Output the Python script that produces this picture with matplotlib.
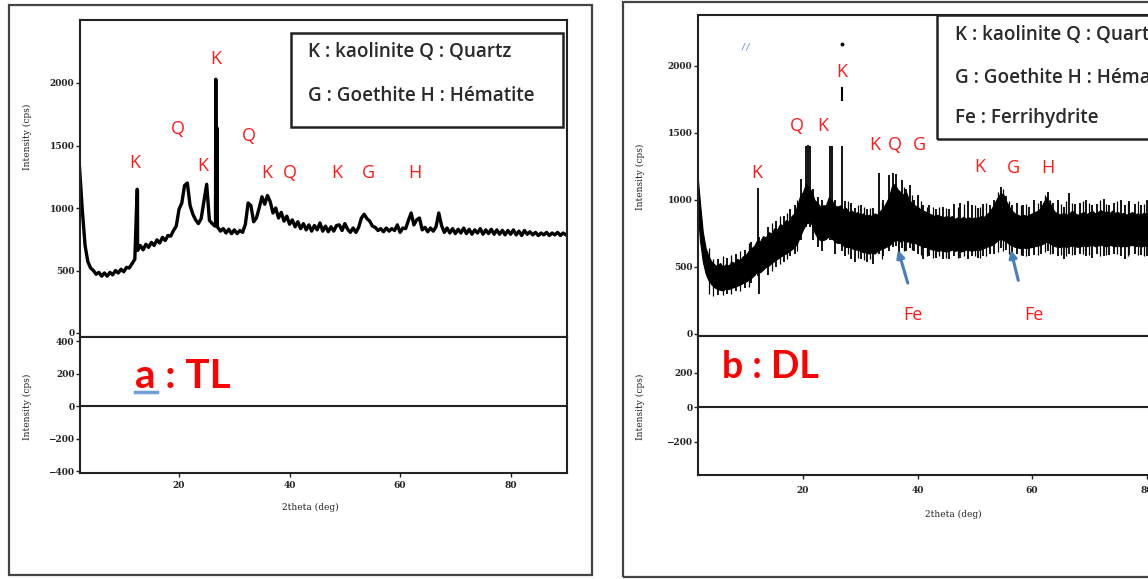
import numpy as np
import matplotlib
matplotlib.use("Agg")
import matplotlib.pyplot as plt
from matplotlib.patches import Rectangle
from matplotlib.lines import Line2D

W, H = 1148, 579

# ---- panel a (TL): intensity, 0.5 deg steps from 2 to 90
tl_x = np.arange(2.0, 90.01, 0.5)
tl_y = [
    1320, 980, 700, 570, 520, 500, 470, 485, 455, 480,
    455, 485, 465, 500, 480, 510, 490, 525, 520, 555,
    590, 660, 700, 665, 710, 685, 725, 700, 745, 720,
    765, 740, 780, 775, 820, 855, 990, 1040, 1180, 1200,
    1020, 950, 905, 875, 915, 1050, 1190, 900, 875, 855,
    845, 815, 835, 800, 830, 795, 825, 795, 820, 805,
    870, 1040, 1020, 890, 920, 1000, 1090, 1030, 1100, 1050,
    960, 1000, 920, 965, 895, 935, 870, 905, 850, 890,
    835, 875, 825, 865, 815, 860, 825, 880, 815, 855,
    810, 850, 815, 860, 865, 820, 875, 830, 805, 840,
    805, 845, 920, 950, 915, 895, 855, 845, 820, 835,
    810, 840, 815, 835, 820, 865, 805, 840, 835, 900,
    960, 865, 905, 920, 825, 845, 810, 840, 815, 850,
    960, 860, 805, 840, 800, 835, 795, 830, 800, 840,
    795, 830, 790, 825, 800, 835, 790, 825, 795, 830,
    790, 825, 790, 822, 785, 820, 790, 825, 785, 815,
    780, 820, 790, 810, 785, 805, 780, 800, 785, 805,
    780, 800, 785, 805, 780, 800, 785,
]
# sharp kaolinite reflections
tl_peak_x = [12.42, 12.48, 26.6, 26.65, 26.72, 26.88, 26.93]
tl_peak_y = [1150, 1140, 870, 2030, 880, 1640, 850]

tl_labels = ["K", "Q", "K", "K", "Q", "K", "Q", "K", "G", "H"]
tl_label_x = [12.0, 19.8, 24.3, 26.7, 32.7, 35.9, 40.1, 48.6, 54.2, 62.7]
tl_label_y = [1360, 1632, 1336, 2192, 1576, 1280, 1280, 1280, 1280, 1280]

# ---- panel b (DL): noisy band, upper / lower edges, 0.5 deg steps from 1.5 to 90
dl_x = np.arange(1.5, 90.01, 0.5)
dl_hi = [
    1220, 980, 760, 640, 580, 540, 520, 505, 530, 500,
    520, 510, 540, 530, 560, 550, 580, 590, 620, 640,
    660, 700, 690, 730, 720, 760, 750, 790, 780, 820,
    810, 850, 840, 880, 900, 960, 1030, 1060, 1120, 1100,
    1060, 1000, 980, 950, 960, 960, 1020, 1000, 960, 950,
    960, 930, 940, 910, 920, 900, 910, 890, 900, 880,
    890, 880, 900, 890, 920, 940, 980, 1020, 1100, 1120,
    1080, 1060, 1040, 1060, 1000, 980, 960, 950, 930, 920,
    910, 900, 890, 880, 890, 880, 870, 880, 870, 880,
    860, 870, 860, 875, 860, 870, 860, 870, 865, 880,
    870, 890, 910, 940, 980, 1020, 1050, 1040, 990, 950,
    920, 900, 890, 880, 890, 880, 890, 900, 910, 920,
    940, 980, 1020, 990, 940, 910, 900, 890, 905, 890,
    900, 920, 900, 890, 900, 910, 895, 905, 920, 900,
    910, 925, 905, 915, 900, 920, 905, 910, 895, 905,
    890, 900, 910, 895, 900, 890, 905, 895, 900, 890,
    900, 890, 905, 895, 900, 890, 900, 895, 900, 890,
    900, 890, 900, 895, 900, 890, 895, 890,
]
dl_lo = [
    1000, 700, 540, 450, 400, 370, 350, 335, 330, 325,
    340, 335, 345, 350, 360, 370, 380, 390, 405, 420,
    440, 470, 460, 480, 500, 510, 530, 545, 560, 575,
    590, 600, 615, 630, 650, 680, 730, 780, 820, 840,
    820, 760, 720, 700, 700, 710, 730, 720, 690, 680,
    680, 660, 650, 650, 640, 630, 630, 620, 610, 610,
    600, 610, 600, 620, 630, 640, 650, 660, 680, 700,
    700, 690, 700, 690, 690, 680, 680, 670, 660, 650,
    650, 640, 630, 630, 620, 625, 620, 615, 620, 630,
    620, 625, 615, 620, 630, 625, 620, 630, 625, 630,
    640, 650, 655, 665, 680, 700, 710, 700, 690, 670,
    660, 650, 645, 640, 645, 640, 645, 650, 655, 660,
    665, 675, 690, 680, 665, 655, 650, 650, 655, 650,
    655, 660, 655, 650, 655, 660, 655, 660, 665, 655,
    660, 665, 660, 655, 665, 660, 655, 660, 650, 660,
    655, 660, 665, 655, 660, 650, 660, 655, 660, 650,
    655, 650, 660, 655, 650, 655, 660, 650, 655, 650,
    655, 650, 655, 660, 650, 655, 650, 655,
]
# single-channel spikes sticking out of the band
dl_spike_x = [5.2, 6.8, 8.3, 9.8, 11.0, 12.1, 12.3, 13.8, 15.3, 16.6, 17.8, 18.6,
              19.65, 20.6, 20.85, 21.15, 21.8, 22.6, 23.3, 24.8, 25.05, 25.6, 26.8,
              27.4, 28.4, 29.1, 30.2, 31.2, 32.3, 33.3, 34.0, 35.0, 35.7, 36.2, 36.7,
              37.3, 38.0, 38.7, 39.4, 40.1, 41.0, 42.0, 43.3, 44.5, 45.5, 46.3, 47.5,
              48.8, 49.5, 50.5, 51.5, 52.6, 53.3, 54.6, 55.5, 56.5, 57.4, 58.5, 59.5,
              60.3, 61.5, 62.8, 63.6, 64.5, 65.5, 66.5, 67.5, 68.4, 69.5, 70.5, 71.3,
              72.5, 73.5, 74.3, 75.5, 76.2, 77.0, 78.0, 79.0, 80.0, 81.2, 82.4, 83.5,
              84.6, 86.0, 87.4, 88.6, 89.6]
dl_spike_lo = [290, 300, 320, 340, 380, 430, 300, 440, 500, 540, 580, 600,
               700, 800, 820, 800, 700, 650, 620, 700, 700, 600, 620,
               580, 560, 540, 560, 540, 520, 600, 580, 620, 650, 660, 600,
               640, 620, 640, 620, 600, 560, 580, 570, 560, 560, 580, 570,
               560, 580, 570, 580, 600, 600, 640, 630, 590, 600, 580, 580,
               590, 600, 620, 600, 580, 560, 600, 590, 600, 580, 570, 600,
               585, 590, 600, 580, 560, 590, 600, 590, 580, 590, 600, 585,
               590, 600, 580, 600, 590]
dl_spike_hi = [560, 570, 600, 630, 690, 1090, 720, 800, 840, 880, 930, 960,
               1160, 1400, 1410, 1400, 1080, 1020, 1000, 1400, 1400, 1000, 1400,
               990, 980, 940, 960, 930, 940, 1200, 1000, 1185, 1200, 1195, 1050,
               1150, 1080, 1110, 1000, 1040, 960, 960, 930, 950, 930, 970, 980,
               990, 960, 940, 970, 960, 1000, 1100, 1030, 960, 980, 960, 950,
               1000, 990, 1060, 980, 1000, 950, 1050, 970, 980, 1000, 960, 970,
               1010, 960, 980, 1000, 960, 990, 970, 960, 1000, 970, 990, 960,
               1000, 970, 990, 960, 980]
# finer, shorter noise spikes
dl_fine_x = [3.5, 4.3, 6.0, 7.5, 9.0, 10.5, 14.5, 16.0, 17.2, 19.0,
             27.9, 29.6, 30.7, 31.7, 33.8, 37.7, 39.0, 40.6, 41.6, 42.7,
             43.8, 45.0, 47.0, 48.2, 50.0, 51.0, 52.0, 54.0, 55.0, 56.0,
             58.0, 59.0, 61.0, 62.2, 63.2, 65.0, 66.0, 67.0, 68.9, 70.0,
             71.9, 73.0, 74.8, 76.8, 78.5, 79.5, 80.6, 81.8, 83.0, 84.0,
             85.3, 86.7, 88.0, 89.2]
dl_fine_lo = [300, 280, 290, 300, 320, 350, 470, 520, 560, 620,
              600, 570, 550, 560, 560, 620, 630, 590, 580, 570,
              580, 570, 570, 580, 580, 570, 580, 610, 620, 600,
              590, 580, 590, 610, 600, 590, 580, 590, 600, 590,
              580, 590, 600, 580, 590, 580, 590, 580, 600, 590,
              580, 590, 600, 580]
dl_fine_hi = [640, 560, 580, 590, 620, 680, 830, 880, 900, 1000,
              990, 960, 950, 940, 980, 1100, 1040, 990, 950, 950,
              950, 940, 950, 970, 960, 950, 980, 1060, 1080, 990,
              960, 970, 980, 1040, 1000, 970, 990, 980, 990, 980,
              1000, 970, 990, 980, 990, 970, 980, 990, 970, 980,
              990, 970, 990, 970]
dl_k_seg = [1740, 1840]
dl_k_dot = 2163

dl_labels = ["K", "Q", "K", "K", "K", "Q", "G", "K", "G", "H"]
dl_label_x = [11.96, 18.95, 23.5, 26.8, 32.6, 36.1, 40.4, 50.9, 56.7, 62.8]
dl_label_y = [1201, 1552, 1552, 1955, 1410, 1410, 1410, 1246, 1238, 1238]
fe_label_x = [39.2, 60.3]
fe_arrow_tail = [(38.3, 380), (57.6, 400)]
fe_arrow_head = [(36.6, 627), (56.3, 627)]

legend_a = ["K : kaolinite Q : Quartz", "G : Goethite H : Hématite"]
legend_b = ["K : kaolinite Q : Quartz", "G : Goethite H : Hématite", "Fe : Ferrihydrite"]

RED = "#ff1a1a"
BLUE = "#4a7ebb"
DARK = "#222222"
LBL_FONT = ["Open Sans", "DejaVu Sans"]
TICK_FONT = ["DejaVu Serif"]


def px_box(l, t, r, b):
    return [l / W, 1 - b / H, (r - l) / W, (b - t) / H]


def style(ax, xlim, ylim, yticks, xticks=None):
    ax.set_xlim(*xlim)
    ax.set_ylim(*ylim)
    ax.set_yticks(yticks)
    if xticks is None:
        ax.set_xticks([])
    else:
        ax.set_xticks(xticks)
    for s in ax.spines.values():
        s.set_linewidth(1.5)
        s.set_color(DARK)
    ax.tick_params(direction="out", length=3, width=1, labelsize=6.5, pad=1,
                   colors=DARK)
    for lab in ax.get_yticklabels() + ax.get_xticklabels():
        lab.set_family(TICK_FONT)
        lab.set_weight("bold")


fig = plt.figure(figsize=(W / 100, H / 100), dpi=100)
fig.patch.set_facecolor("white")

# outer frames
fig.add_artist(Rectangle((9 / W, 1 - 575 / H), 583 / W, 570 / H, transform=fig.transFigure,
                         fill=False, lw=1.6, ec="#444444"))
fig.add_artist(Rectangle((623 / W, 1 - 577 / H), 1.0, 575 / H, transform=fig.transFigure,
                         fill=False, lw=1.6, ec="#444444"))

# ================= panel a =================
ax1 = fig.add_axes(px_box(80, 20, 567, 337))
ax2 = fig.add_axes(px_box(80, 337, 567, 473))

x_all = np.concatenate([tl_x, tl_peak_x])
y_all = np.concatenate([tl_y, tl_peak_y])
order = np.argsort(x_all, kind="stable")
ax1.plot(x_all[order], y_all[order], color="black", lw=2.4)

style(ax1, (2.08, 90.2), (-32, 2504), [0, 500, 1000, 1500, 2000])
style(ax2, (2.08, 90.2), (-412, 425), [-400, -200, 0, 200, 400], [20, 40, 60, 80])
ax2.axhline(0, color=DARK, lw=1.5)
ax2.tick_params(axis="x", pad=3)

for s, x, y in zip(tl_labels, tl_label_x, tl_label_y):
    ax1.text(x, y, s, color=RED, fontsize=13, ha="center", va="center", family=LBL_FONT)

ax1.add_patch(Rectangle((0.433, 0.6625), 0.5585, 0.2965, transform=ax1.transAxes,
                        fill=False, lw=1.8, ec=DARK))
for txt, yy in zip(legend_a, [0.899, 0.760]):
    ax1.text(0.468, yy, txt, transform=ax1.transAxes, va="center", ha="left",
             fontsize=13.6, fontweight="semibold", color="#2a2a2a", family=LBL_FONT)

for ax, yc in [(ax1, 0.63), (ax2, 0.485)]:
    ax.set_ylabel("Intensity (cps)", fontsize=6.5, family=TICK_FONT, color=DARK)
    ax.yaxis.set_label_coords(-0.099, yc)
ax2.set_xlabel("2theta (deg)", fontsize=6.5, family=TICK_FONT, color=DARK)
ax2.xaxis.set_label_coords(0.472, -0.22)

fig.text(135 / W, 1 - 388 / H, "a : TL", color="#ff0000", fontsize=29, fontweight="bold",
         family=["Lato", "DejaVu Sans"], ha="left", va="baseline")
fig.add_artist(Line2D([135 / W, 157 / W], [1 - 392 / H, 1 - 392 / H], transform=fig.transFigure,
                      color="#6fa0dc", lw=2.5))

# ================= panel b =================
bx1 = fig.add_axes(px_box(698, 15, 1204, 336))
bx2 = fig.add_axes(px_box(698, 336, 1204, 475))

bx1.fill_between(dl_x, dl_lo, dl_hi, color="black", lw=0.8)
bx1.vlines(dl_spike_x, dl_spike_lo, dl_spike_hi, color="black", lw=1.3)
bx1.vlines(dl_fine_x, dl_fine_lo, dl_fine_hi, color="black", lw=0.9)
bx1.vlines([26.8], dl_k_seg[0], dl_k_seg[1], color="black", lw=1.5)
bx1.plot([26.8], [dl_k_dot], "o", color="black", ms=1.8)

style(bx1, (1.66, 90.04), (-15, 2380), [0, 500, 1000, 1500, 2000])
style(bx2, (1.66, 90.04), (-394, 412), [-200, 0, 200], [20, 40, 60, 80])
bx2.axhline(0, color=DARK, lw=1.5)
bx2.tick_params(axis="x", pad=5)

for s, x, y in zip(dl_labels, dl_label_x, dl_label_y):
    bx1.text(x, y, s, color=RED, fontsize=13, ha="center", va="center", family=LBL_FONT)
for x in fe_label_x:
    bx1.text(x, 142, "Fe", color=RED, fontsize=13, ha="center", va="center", family=LBL_FONT)
for tail, head in zip(fe_arrow_tail, fe_arrow_head):
    bx1.annotate("", xy=head, xytext=tail,
                 arrowprops=dict(arrowstyle="-|>", color=BLUE, lw=2.2, mutation_scale=11,
                                 shrinkA=0, shrinkB=0))
bx1.text(0.095, 0.90, "/ /", transform=bx1.transAxes, color=BLUE, fontsize=6,
         style="italic", ha="center", va="center")

bx1.add_patch(Rectangle((0.4723, 0.6137), 0.52, 0.3863, transform=bx1.transAxes,
                        fill=False, lw=1.8, ec=DARK))
for txt, yy in zip(legend_b, [0.938, 0.804, 0.679]):
    bx1.text(0.508, yy, txt, transform=bx1.transAxes, va="center", ha="left",
             fontsize=13.6, fontweight="semibold", color="#2a2a2a", family=LBL_FONT)

for ax, yc in [(bx1, 0.495), (bx2, 0.49)]:
    ax.set_ylabel("Intensity (cps)", fontsize=6.5, family=TICK_FONT, color=DARK)
    ax.yaxis.set_label_coords(-0.105, yc)
bx2.set_xlabel("2theta (deg)", fontsize=6.5, family=TICK_FONT, color=DARK)
bx2.xaxis.set_label_coords(0.504, -0.25)

fig.text(722 / W, 1 - 378 / H, "b : DL", color="#ff0000", fontsize=27, fontweight="bold",
         family=["Lato", "DejaVu Sans"], ha="left", va="baseline")

fig.savefig("out.png", dpi=100)
